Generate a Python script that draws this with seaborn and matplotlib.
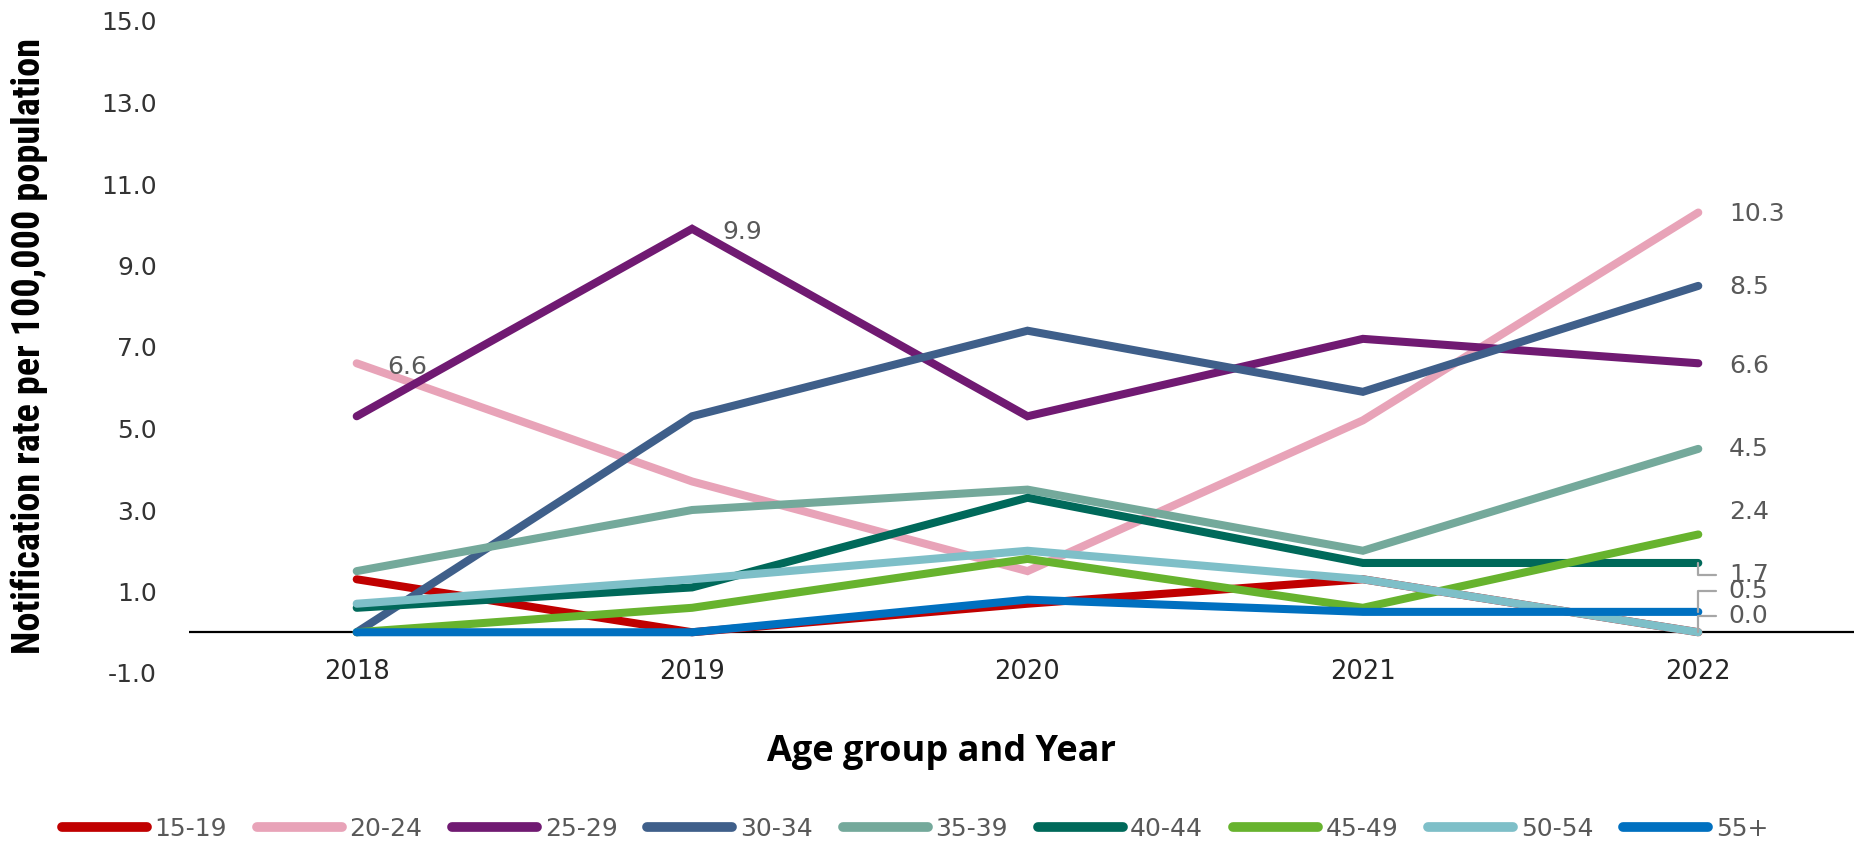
import numpy as np
import pandas as pd
import matplotlib
matplotlib.use("Agg")
import matplotlib.pyplot as plt
from matplotlib import font_manager as fm
import seaborn as sns

# ---- data -------------------------------------------------------------
years = ["2018", "2019", "2020", "2021", "2022"]
age_groups = ["15-19", "20-24", "25-29", "30-34", "35-39",
              "40-44", "45-49", "50-54", "55+"]

rate_15_19 = [1.3, 0.0, 0.7, 1.3, 0.0]
rate_20_24 = [6.6, 3.7, 1.5, 5.2, 10.3]
rate_25_29 = [5.3, 9.9, 5.3, 7.2, 6.6]
rate_30_34 = [0.0, 5.3, 7.4, 5.9, 8.5]
rate_35_39 = [1.5, 3.0, 3.5, 2.0, 4.5]
rate_40_44 = [0.6, 1.1, 3.3, 1.7, 1.7]
rate_45_49 = [0.0, 0.6, 1.8, 0.6, 2.4]
rate_50_54 = [0.7, 1.3, 2.0, 1.3, 0.0]
rate_55_plus = [0.0, 0.0, 0.8, 0.5, 0.5]

series_colors = ["#C00000", "#E8A3B8", "#701A72", "#3F5F8A", "#74A99B",
                 "#00695A", "#67B32E", "#7EBFC8", "#0070C0"]

y_ticks = [-1, 1, 3, 5, 7, 9, 11, 13, 15]

# (age group, year, dx pt, dy pt, leader line)
value_labels = [
    ("20-24", "2018", 22, -3, False),
    ("25-29", "2019", 22, -2, False),
    ("20-24", "2022", 22, -1, False),
    ("30-34", "2022", 22, -1, False),
    ("25-29", "2022", 22, -2, False),
    ("35-39", "2022", 22, 0, False),
    ("45-49", "2022", 22, 16, False),
    ("40-44", "2022", 22, -9, True),
    ("55+", "2022", 22, 15, True),
    ("50-54", "2022", 22, 11.5, True),
]

all_rates = [rate_15_19, rate_20_24, rate_25_29, rate_30_34, rate_35_39,
             rate_40_44, rate_45_49, rate_50_54, rate_55_plus]
df = pd.DataFrame([
    {"Year": y, "Age group": g, "Rate": v}
    for g, vals in zip(age_groups, all_rates)
    for y, v in zip(years, vals)
])


def first_available(candidates):
    names = {f.name for f in fm.fontManager.ttflist}
    for c in candidates:
        if c in names:
            return c
    return "DejaVu Sans"


narrow_font = first_available(["Liberation Sans Narrow", "Roboto Condensed",
                               "DejaVu Sans Condensed", "Open Sans Condensed",
                               "Roboto"])

# ---- figure -----------------------------------------------------------
sns.set_theme(style="white")
plt.rcParams["font.family"] = ["DejaVu Sans"]

W, H = 1854, 842
fig = plt.figure(figsize=(W / 100, H / 100), dpi=100)
ax_left, ax_right, ax_top, ax_bottom = 189, 1866, 21, 673
ax = fig.add_axes([ax_left / W, 1 - ax_bottom / H,
                   (ax_right - ax_left) / W, (ax_bottom - ax_top) / H])

ax.axhline(0, color="black", lw=1.6, zorder=1)

sns.lineplot(data=df, x="Year", y="Rate", hue="Age group",
             hue_order=age_groups, palette=series_colors, sort=False,
             linewidth=5.8, ax=ax, legend=True, zorder=3)
for line in ax.get_lines():
    line.set_solid_capstyle("round")
    line.set_solid_joinstyle("miter")

ax.set_xlim(-0.5, 4.5)
ax.set_ylim(-1, 15)
ax.set_yticks(y_ticks)
ax.set_yticklabels([f"{t:.1f}" for t in y_ticks])
ax.tick_params(axis="y", length=0, pad=23, labelsize=18, labelcolor="#333333")
ax.tick_params(axis="x", length=0, pad=-10, labelsize=18.5, labelcolor="#262626")
for s in ax.spines.values():
    s.set_visible(False)
ax.grid(False)

ax.set_ylabel("Notification rate per 100,000 population", family=narrow_font,
              fontweight="bold", fontsize=27.5, color="black", va="center")
ax.yaxis.set_label_coords(-0.095, 0.502)
ax.set_xlabel("Age group and Year", family="Open Sans", fontweight="bold",
              fontsize=26, color="black", va="center")
ax.xaxis.set_label_coords((942 - ax_left) / (ax_right - ax_left),
                          (ax_bottom - 752) / (ax_bottom - ax_top))

# value labels
lookup = {g: dict(zip(years, vals)) for g, vals in zip(age_groups, all_rates)}
for g, yr, dx, dy, leader in value_labels:
    v = lookup[g][yr]
    xi = years.index(yr)
    kw = {}
    if leader:
        kw["arrowprops"] = dict(arrowstyle="-", color="#A6A6A6", lw=1.6,
                                shrinkA=7, shrinkB=0, relpos=(0, 0.5),
                                connectionstyle="angle,angleA=180,angleB=90,rad=0")
    ax.annotate(f"{v:.1f}", xy=(xi, v), xytext=(dx, dy),
                textcoords="offset points", ha="left", va="center",
                fontsize=18, color="#595959", zorder=5, **kw)

# legend
handles, labels = ax.get_legend_handles_labels()
for h in handles:
    h.set_linewidth(7)
    h.set_solid_capstyle("round")
ax.legend(handles, labels, loc="center", ncol=9, frameon=False,
          bbox_to_anchor=(915 / W, 1 - 829 / H), bbox_transform=fig.transFigure,
          fontsize=18, labelcolor="#595959", handlelength=3.4,
          handletextpad=0.3, columnspacing=1.2)

fig.savefig("out.png", dpi=100)
